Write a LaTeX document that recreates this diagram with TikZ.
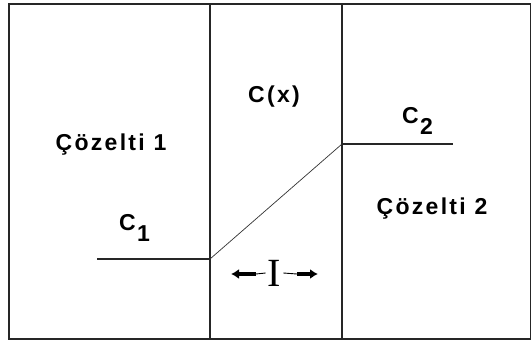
\documentclass[tikz,border=0pt]{standalone}
\usepackage{fontspec}
\setmainfont{Liberation Sans}
\newfontfamily\lblfont[LetterSpace=10,BoldFont={Liberation Sans Bold}]{Liberation Sans}
\newfontfamily\seriffont{Liberation Serif}
\usetikzlibrary{arrows.meta}
\begin{document}
\begin{tikzpicture}[x=1pt,y=-1pt,
  wall/.style={line width=1.3pt,black!85},
  level/.style={line width=1.1pt,black!85},
  slope/.style={line width=0.7pt,black!80},
  lbl/.style={inner sep=0pt,font=\lblfont\bfseries\fontsize{23}{26}\selectfont},
  sub/.style={inner sep=0pt,font=\lblfont\bfseries\fontsize{23}{26}\selectfont},
  shaft/.style={line width=0.9pt},
  head/.style={line width=3.6pt,-{Latex[length=8pt,width=10pt]}}]
\useasboundingbox (0,0) rectangle (532,342);
\fill[white] (0,0) rectangle (532,342);
% frame and walls
\coordinate (tl) at (9,4);
\coordinate (br) at (530.5,339);
\draw[wall] (tl) rectangle (br);
\coordinate (w1t) at (210,4);
\coordinate (w1b) at (210,339);
\coordinate (w2t) at (342,4);
\coordinate (w2b) at (342,339);
\draw[wall] (w1t) -- (w1b);
\draw[wall] (w2t) -- (w2b);
% concentration profile
\coordinate (c1s) at (97,259);
\coordinate (c1e) at (210,259);
\coordinate (c2s) at (342,144);
\coordinate (c2e) at (453,144);
\draw[level] (c1s) -- (c1e);
\draw[slope] (c1e) -- (c2s);
\draw[level] (c2s) -- (c2e);
% labels
\node[lbl] (s1) at (111,145) {Çözelti 1};
\node[lbl] (s2) at (432,209) {Çözelti 2};
\node[lbl] (cx) at (274,97) {C(x)};
\node[sub,anchor=base west] (C1) at (119,230) {C};
\node[sub,anchor=base west] (C1s) at ([xshift=1pt]C1.base east) {\raisebox{-11pt}{1}};
\node[sub,anchor=base west] (C2) at (402,123) {C};
\node[sub,anchor=base west] (C2s) at ([xshift=1pt]C2.base east) {\raisebox{-11pt}{2}};
% thickness marker
\node[inner sep=0pt,font=\seriffont\fontsize{40}{42}\selectfont] (I) at (274.5,273) {I};
\coordinate (la) at (231,274);
\coordinate (lb) at (256,274);
\coordinate (ra) at (318,274);
\coordinate (rb) at (297,274);
\draw[shaft] (I.west) ++(-2,0) coordinate (li) -- (lb);
\draw[head] (lb) -- (la);
\draw[shaft] (I.east) ++(2,0) coordinate (ri) -- (rb);
\draw[head] (rb) -- (ra);
\end{tikzpicture}
\end{document}
